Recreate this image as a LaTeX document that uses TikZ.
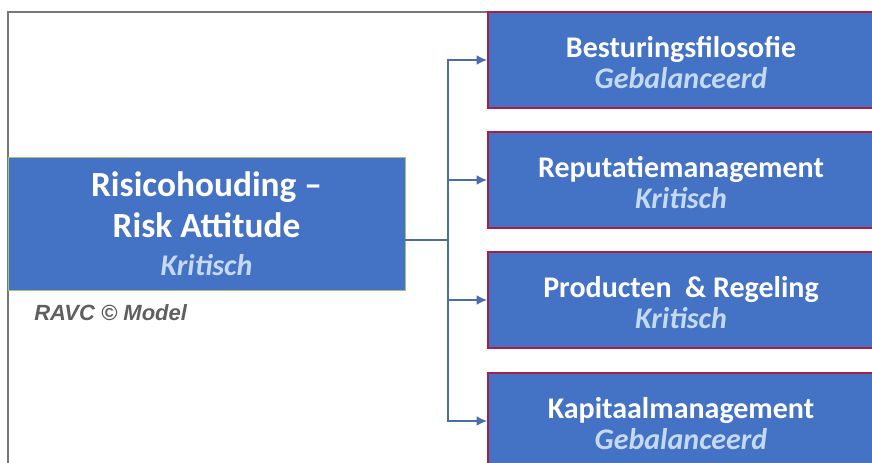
\documentclass[tikz,border=0pt]{standalone}
\usepackage{xcolor}
\usepackage{fontspec}
\setmainfont{Carlito}
\newfontfamily\modelfont{Liberation Sans}
\usetikzlibrary{positioning,calc,arrows.meta}
\definecolor{boxblue}{RGB}{68,114,196}
\definecolor{boxred}{RGB}{170,30,70}
\definecolor{boxgreen}{RGB}{160,200,110}
\definecolor{subtext}{RGB}{196,218,244}
\definecolor{linkblue}{RGB}{74,108,168}
\definecolor{framegray}{RGB}{120,120,120}
\definecolor{modelgray}{RGB}{95,95,95}
\newcommand{\boxtext}[2]{%
  \rule{0pt}{20pt}#1\\[1pt]
  {\itshape\color{subtext} #2}}
\tikzstyle{mainbox}=[rectangle, draw=boxgreen, line width=.6pt, fill=boxblue, text=white,
  minimum width=297.75pt, minimum height=99.75pt, align=center, inner sep=0pt,
  font=\fontsize{26.5}{32}\selectfont\bfseries]
\tikzstyle{subbox}=[rectangle, draw=boxred, line width=1.2pt, fill=boxblue, text=white,
  minimum width=289.5pt, minimum height=72pt, align=center, inner sep=0pt,
  font=\fontsize{22.5}{22.5}\selectfont\bfseries]
\tikzset{link/.style={line width=1.5pt, color=linkblue}}
\tikzset{y=-.75pt}
\tikzset{x=.75pt}

\begin{document}
\begin{tikzpicture}
  \useasboundingbox (0,0) rectangle (872,462);
  %% frame
  \draw[framegray, line width=1.5pt] (8,470) -- (8,12) -- (500,12);

  \draw (206.5,223.5) node[mainbox] (RA) {%
    Risicohouding --\\[-1pt]
    Risk Attitude\\[-4pt]
    {\fontsize{22.5}{26}\selectfont\itshape\color{subtext} Kritisch}};
  \draw (RA.south west) ++(22,22) node[anchor=west, text=modelgray] (RAVC)
    {\modelfont\fontsize{16.5}{18}\selectfont\bfseries\itshape RAVC \textcopyright\ Model};

  \draw (681,60) node[subbox] (BF) {\boxtext{Besturingsfilosofie}{Gebalanceerd}};
  \draw (681,180) node[subbox] (RM) {\boxtext{Reputatiemanagement}{Kritisch}};
  \draw (681,300) node[subbox] (PR) {\boxtext{Producten~ \& Regeling}{Kritisch}};
  \draw (681,421) node[subbox] (KM) {\boxtext{Kapitaalmanagement}{Gebalanceerd}};

  %% connectors
  \coordinate (fork) at (448,240);
  \draw[link] (RA.east |- fork) -- (fork);
  \foreach \b in {BF,RM,PR,KM}
    \draw[link,-{Latex[length=8pt,width=7.5pt]}] (fork) |- (\b.west);
\end{tikzpicture}
\end{document}
